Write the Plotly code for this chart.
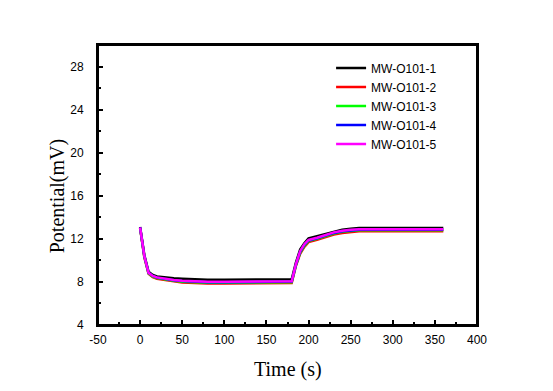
import plotly.graph_objects as go

time_s = [0, 5, 10, 15, 20, 30, 40, 50, 60, 80, 100, 120, 140, 160, 180,
          185, 190, 195, 200, 210, 220, 230, 240, 250, 260, 280, 300, 320, 340, 360]

mw1 = [13.1, 10.5, 8.95, 8.65, 8.5, 8.4, 8.35, 8.3, 8.25, 8.2, 8.2, 8.22, 8.25, 8.25, 8.25,
       9.8, 11.0, 11.6, 12.05, 12.25, 12.45, 12.7, 12.85, 12.95, 13.0, 13.0, 13.0, 13.0, 13.0, 13.0]
mw2 = [13.0, 10.3, 8.75, 8.45, 8.3, 8.15, 8.05, 7.95, 7.9, 7.85, 7.85, 7.88, 7.9, 7.9, 7.9,
       9.5, 10.6, 11.25, 11.7, 11.9, 12.15, 12.4, 12.55, 12.65, 12.7, 12.7, 12.7, 12.7, 12.7, 12.7]
mw3 = [13.0, 10.35, 8.8, 8.5, 8.35, 8.2, 8.1, 8.02, 7.98, 7.92, 7.92, 7.95, 7.98, 7.98, 7.98,
       9.55, 10.7, 11.35, 11.8, 12.0, 12.25, 12.5, 12.65, 12.75, 12.8, 12.8, 12.8, 12.8, 12.8, 12.8]
mw4 = [13.05, 10.4, 8.85, 8.55, 8.4, 8.25, 8.15, 8.08, 8.03, 7.98, 7.98, 8.0, 8.03, 8.03, 8.03,
       9.6, 10.8, 11.45, 11.85, 12.05, 12.3, 12.55, 12.7, 12.8, 12.85, 12.85, 12.85, 12.85, 12.85, 12.85]
mw5 = [13.05, 10.4, 8.85, 8.55, 8.42, 8.28, 8.18, 8.1, 8.06, 8.02, 8.02, 8.04, 8.06, 8.06, 8.06,
       9.65, 10.85, 11.5, 11.9, 12.1, 12.35, 12.6, 12.75, 12.85, 12.88, 12.88, 12.88, 12.88, 12.88, 12.88]

names = ["MW-O101-1", "MW-O101-2", "MW-O101-3", "MW-O101-4", "MW-O101-5"]
colors = ["#000000", "#ff0000", "#00ff00", "#0000ff", "#ff00ff"]
series = [mw1, mw2, mw3, mw4, mw5]

x_ticks = [-50, 0, 50, 100, 150, 200, 250, 300, 350, 400]
x_labels = ["-50", "0", "50", "100", "150", "200", "250", "300", "350", "400"]
y_ticks = [4, 8, 12, 16, 20, 24, 28]
y_labels = ["4", "8", "12", "16", "20", "24", "28"]

fig = go.Figure()
for name, col, vals in zip(names, colors, series):
    fig.add_trace(go.Scatter(x=time_s, y=vals, mode="lines", name=name,
                             line=dict(color=col, width=2.5)))

axis_common = dict(showline=True, linecolor="black", linewidth=2, mirror=True,
                   ticks="inside", tickcolor="black", tickwidth=1.5, ticklen=5,
                   showgrid=False, zeroline=False, automargin=False,
                   tickfont=dict(family="Liberation Sans", size=12, color="black"))

fig.update_layout(
    template="none",
    width=545, height=383,
    margin=dict(l=90, r=76, t=37, b=66, autoexpand=False),
    paper_bgcolor="white", plot_bgcolor="white",
    xaxis=dict(range=[-50, 400], tickvals=x_ticks, ticktext=x_labels,
               minor=dict(ticks="inside", dtick=25, ticklen=3, tickcolor="black", tickwidth=1.5),
               ticklabelstandoff=3, **axis_common),
    yaxis=dict(range=[4, 30], tickvals=y_ticks, ticktext=y_labels,
               minor=dict(ticks="inside", dtick=2, ticklen=3, tickcolor="black", tickwidth=1.5),
               ticklabelstandoff=10, **axis_common),
    legend=dict(x=0.615, y=0.97, xanchor="left", yanchor="top",
                bgcolor="rgba(0,0,0,0)", borderwidth=0,
                font=dict(family="Liberation Sans", size=12, color="black")),
    showlegend=True,
    shapes=[dict(type="rect", xref="paper", yref="paper", x0=0, y0=0, x1=1, y1=1,
                 line=dict(color="black", width=2), layer="above")],
    annotations=[
        dict(text="Time (s)", xref="paper", yref="paper", x=0.5, y=-0.158,
             xanchor="center", yanchor="middle", showarrow=False,
             font=dict(family="Liberation Serif", size=20, color="black")),
        dict(text="Potential(mV)", xref="paper", yref="paper", x=-0.108, y=0.46,
             xanchor="center", yanchor="middle", showarrow=False, textangle=-90,
             font=dict(family="Liberation Serif", size=20, color="black")),
    ],
)

fig.write_html("out.html")
